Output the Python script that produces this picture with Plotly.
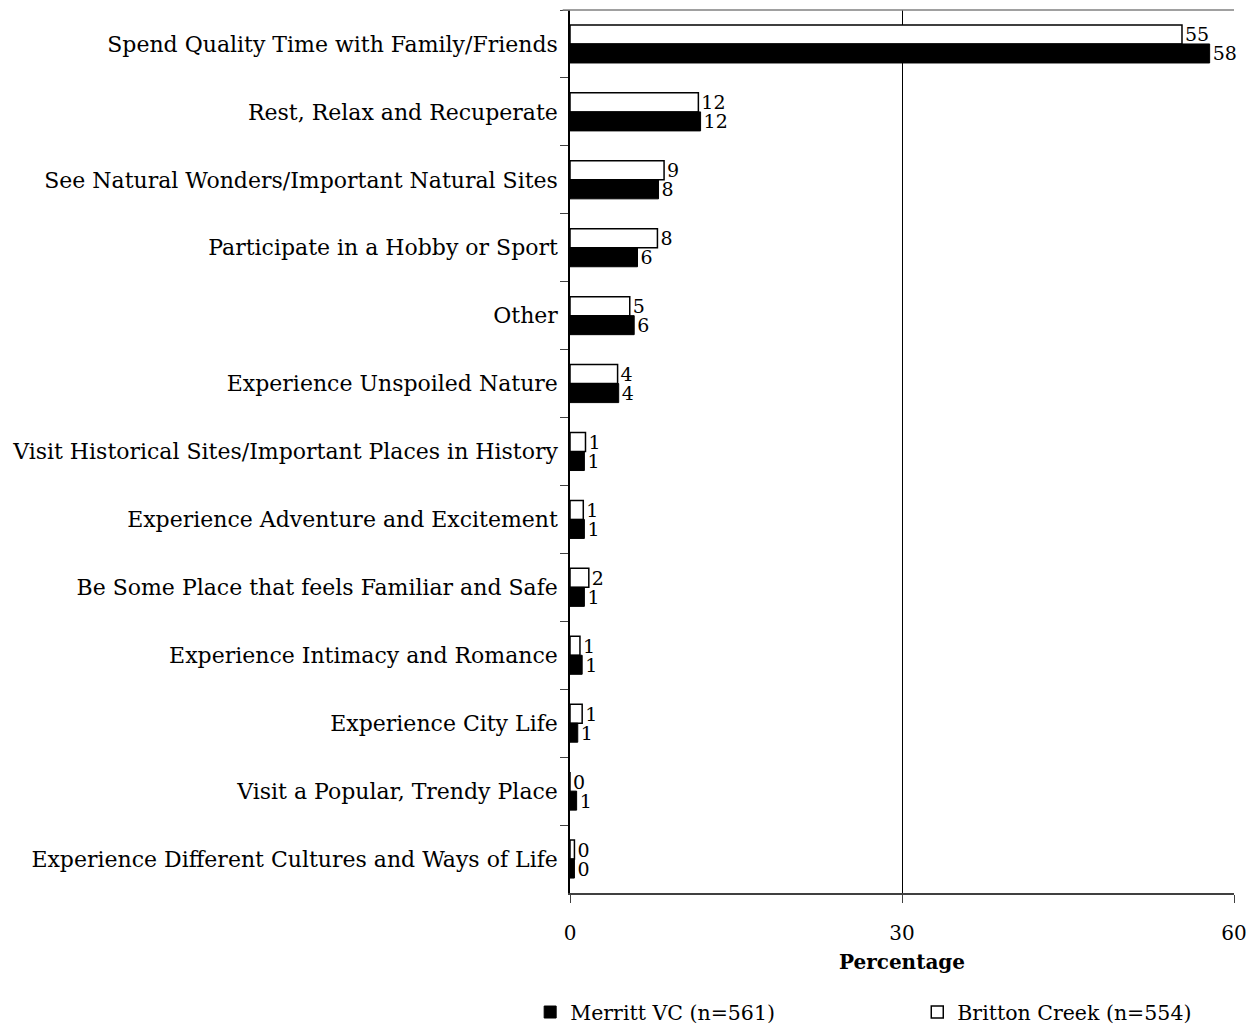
import plotly.graph_objects as go

# Reasons for visiting, top to bottom
categories = [
    "Spend Quality Time with Family/Friends",
    "Rest, Relax and Recuperate",
    "See Natural Wonders/Important Natural Sites",
    "Participate in a Hobby or Sport",
    "Other",
    "Experience Unspoiled Nature",
    "Visit Historical Sites/Important Places in History",
    "Experience Adventure and Excitement",
    "Be Some Place that feels Familiar and Safe",
    "Experience Intimacy and Romance",
    "Experience City Life",
    "Visit a Popular, Trendy Place",
    "Experience Different Cultures and Ways of Life",
]

merritt_pct = [57.8, 11.8, 8.0, 6.1, 5.8, 4.4, 1.3, 1.3, 1.3, 1.1, 0.7, 0.6, 0.4]
britton_pct = [55.3, 11.6, 8.5, 7.9, 5.4, 4.3, 1.4, 1.2, 1.7, 0.9, 1.1, 0.0, 0.4]

merritt_name = "Merritt VC (n=561)"
britton_name = "Britton Creek (n=554)"

x_ticks = [0, 30, 60]

FONT = "DejaVu Serif"

fig = go.Figure()

fig.add_trace(go.Bar(
    y=categories, x=britton_pct, orientation="h", name=britton_name,
    marker=dict(color="white", line=dict(color="black", width=1.5)),
    text=britton_pct, texttemplate="%{x:.0f}", textposition="outside",
    textfont=dict(family=FONT, size=19, color="black"),
    constraintext="none", cliponaxis=False, legend="legend2",
))
fig.add_trace(go.Bar(
    y=categories, x=merritt_pct, orientation="h", name=merritt_name,
    marker=dict(color="black", line=dict(color="black", width=1)),
    text=merritt_pct, texttemplate="%{x:.0f}", textposition="outside",
    textfont=dict(family=FONT, size=19, color="black"),
    constraintext="none", cliponaxis=False, legend="legend",
))

legend_style = dict(
    orientation="h", xanchor="left", y=-0.135, yanchor="middle",
    font=dict(family=FONT, size=20.5), bgcolor="rgba(0,0,0,0)",
)

fig.update_layout(
    width=1256, height=1028,
    margin=dict(l=570, r=22, t=10, b=135, autoexpand=False),
    paper_bgcolor="white", plot_bgcolor="white",
    barmode="group", bargap=0.44, bargroupgap=0,
    font=dict(family=FONT, size=21, color="black"),
    showlegend=True,
    legend=dict(x=-0.06, **legend_style),
    legend2=dict(x=0.523, **legend_style),
)

fig.update_xaxes(
    range=[0, 60], tickvals=x_ticks, ticks="outside", ticklen=8,
    tickcolor="#404040", showline=True, linecolor="#404040", linewidth=1.5,
    mirror=False, showgrid=True, gridcolor="black", gridwidth=1,
    zeroline=False, tickfont=dict(family=FONT, size=20), ticklabelstandoff=13,
    automargin=False,
    title=dict(text="<b>Percentage</b>", font=dict(family=FONT, size=20), standoff=11),
)
fig.update_yaxes(
    categoryorder="array", categoryarray=categories, autorange="reversed",
    tickson="boundaries", ticks="outside", ticklen=8, tickcolor="#404040",
    showline=True, linecolor="black", linewidth=1.5, showgrid=False,
    tickfont=dict(family=FONT, size=22), ticklabelstandoff=6, automargin=False,
)

# light frame along the top edge of the plot
fig.add_shape(type="line", xref="paper", yref="paper", x0=-0.011, x1=1, y0=1, y1=1,
              line=dict(color="#808080", width=1.5))

fig.write_html("out.html")
